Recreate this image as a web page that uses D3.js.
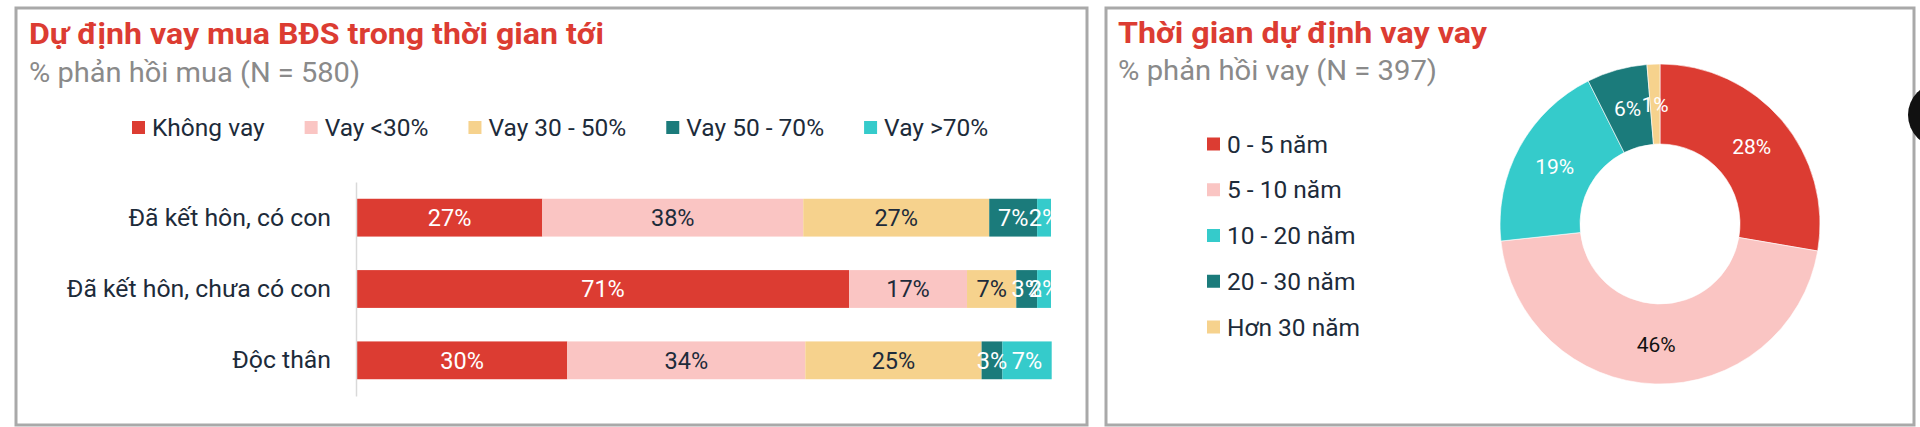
<!DOCTYPE html>
<html>
<head>
<meta charset="utf-8">
<script src="https://cdn.jsdelivr.net/npm/d3@7"></script>
<style>
  html, body { margin: 0; padding: 0; background: #ffffff; }
  svg { display: block; }
  text { font-family: Roboto, "Noto Sans", sans-serif; }
</style>
</head>
<body>
<svg id="chart" width="1920" height="427"></svg>
<script>
// ---------- DATA ----------
const barTitle = "Dự định vay mua BĐS trong thời gian tới";
const barSubtitle = "% phản hồi mua (N = 580)";
const barCategories = ["Đã kết hôn, có con", "Đã kết hôn, chưa có con", "Độc thân"];
const barSeries = ["Không vay", "Vay <30%", "Vay 30 - 50%", "Vay 50 - 70%", "Vay >70%"];
const khongVay   = [26.7, 70.9, 30.3];
const vayDuoi30  = [37.6, 17.0, 34.3];
const vay30den50 = [26.8, 7.1, 25.4];
const vay50den70 = [6.9, 3.0, 3.0];
const vayTren70  = [2.0, 2.0, 7.1];

const donutTitle = "Thời gian dự định vay vay";
const donutSubtitle = "% phản hồi vay (N = 397)";
const donutCategories = ["0 - 5 năm", "5 - 10 năm", "10 - 20 năm", "20 - 30 năm", "Hơn 30 năm"];
const donutValues = [27.7, 45.6, 19.3, 6.1, 1.3];

// ---------- STYLE ----------
const RED = "#dc3c32", PINK = "#fac5c3", YELLOW = "#f6d28d", TEAL = "#1b7b7b", CYAN = "#35cbcb";
const DARK = "#1d2b3a", GRAY = "#8a8a8a";
const barColors = [RED, PINK, YELLOW, TEAL, CYAN];
const barLabelColors = ["#ffffff", DARK, DARK, "#ffffff", "#ffffff"];
const donutColors = [RED, PINK, CYAN, TEAL, YELLOW];
const donutLabelColors = ["#ffffff", "#111111", "#ffffff", "#ffffff", "#ffffff"];

const svg = d3.select("#chart");

// ---------- PANELS ----------
svg.append("rect").attr("x", 16).attr("y", 8).attr("width", 1071).attr("height", 417)
  .attr("fill", "#fff").attr("stroke", "#a9a9a9").attr("stroke-width", 3);
svg.append("rect").attr("x", 1106).attr("y", 8).attr("width", 808).attr("height", 417)
  .attr("fill", "#fff").attr("stroke", "#a9a9a9").attr("stroke-width", 3);

function fitText(sel, w) {
  sel.attr("textLength", w).attr("lengthAdjust", "spacingAndGlyphs");
  return sel;
}

// ---------- LEFT: stacked bars ----------
fitText(svg.append("text").attr("x", 29).attr("y", 44).text(barTitle)
  .attr("font-size", 29).attr("font-weight", 700).attr("fill", RED), 575);
fitText(svg.append("text").attr("x", 29).attr("y", 82).text(barSubtitle)
  .attr("font-size", 27).attr("fill", GRAY), 331);

// legend
const legL = svg.append("g");
let lx = 132;
barSeries.forEach((s, i) => {
  legL.append("rect").attr("x", lx).attr("y", 121).attr("width", 13).attr("height", 13).attr("fill", barColors[i]);
  const t = legL.append("text").attr("x", lx + 20).attr("y", 127).attr("dy", "0.35em")
    .attr("font-size", 24.5).attr("fill", DARK).text(s);
  lx = lx + 20 + t.node().getComputedTextLength() + 40;
});

const seriesArrays = [khongVay, vayDuoi30, vay30den50, vay50den70, vayTren70];
const rows = barCategories.map((c, i) => {
  const r = { cat: c };
  barSeries.forEach((s, j) => r[s] = seriesArrays[j][i]);
  return r;
});
const stack = d3.stack().keys(barSeries)(rows);

const x = d3.scaleLinear().domain([0, 100]).range([357, 1051]);
const y = d3.scaleBand().domain(barCategories).range([182, 396]).paddingInner(0.47).paddingOuter(0.235);

const gBars = svg.append("g");
stack.forEach((layer, j) => {
  const g = gBars.append("g").attr("fill", barColors[j]);
  g.selectAll("rect").data(layer).join("rect")
    .attr("x", d => x(d[0]))
    .attr("y", d => y(d.data.cat))
    .attr("width", d => x(d[1]) - x(d[0]))
    .attr("height", y.bandwidth());
});
stack.forEach((layer, j) => {
  gBars.append("g").selectAll("text").data(layer).join("text")
    .attr("x", d => (x(d[0]) + x(d[1])) / 2)
    .attr("y", d => y(d.data.cat) + y.bandwidth() / 2)
    .attr("dy", "0.36em")
    .attr("text-anchor", "middle")
    .attr("font-size", 23.5)
    .attr("fill", barLabelColors[j])
    .text(d => d3.format(".0f")(d[1] - d[0]) + "%");
});

// y axis
const yAxis = d3.axisLeft(y).tickSize(0).tickPadding(25);
const gy = svg.append("g").attr("transform", "translate(356,0)").call(yAxis);
gy.select(".domain").attr("stroke", "#d9d9d9").attr("stroke-width", 1.5);
gy.selectAll(".tick text").attr("font-size", 24.8).attr("fill", DARK)
  .attr("font-family", "Roboto, sans-serif");

// ---------- RIGHT: donut ----------
fitText(svg.append("text").attr("x", 1118).attr("y", 43).text(donutTitle)
  .attr("font-size", 29).attr("font-weight", 700).attr("fill", RED), 369);
fitText(svg.append("text").attr("x", 1118).attr("y", 80).text(donutSubtitle)
  .attr("font-size", 27).attr("fill", GRAY), 319);

const legR = svg.append("g");
const legY = d3.scalePoint().domain(donutCategories).range([144, 327]);
donutCategories.forEach((c, i) => {
  legR.append("rect").attr("x", 1207).attr("y", legY(c) - 6.5).attr("width", 13).attr("height", 13).attr("fill", donutColors[i]);
  legR.append("text").attr("x", 1227).attr("y", legY(c)).attr("dy", "0.35em")
    .attr("font-size", 24.5).attr("fill", DARK).text(c);
});

const pie = d3.pie().sort(null).value(d => d.v);
const arcs = pie(donutCategories.map((c, i) => ({ c, v: donutValues[i], i })));
const arc = d3.arc().innerRadius(80).outerRadius(160);
const labelArc = d3.arc().innerRadius(120).outerRadius(120);
const gD = svg.append("g").attr("transform", "translate(1660,224)");
gD.selectAll("path").data(arcs).join("path")
  .attr("d", arc).attr("fill", d => donutColors[d.data.i])
  .attr("stroke", "#ffffff").attr("stroke-width", 0.6);
gD.selectAll("text").data(arcs).join("text")
  .attr("transform", d => `translate(${labelArc.centroid(d)})`)
  .attr("dy", "0.36em").attr("text-anchor", "middle")
  .attr("font-family", "'Open Sans', 'Noto Sans', sans-serif")
  .attr("font-size", 21)
  .attr("fill", d => donutLabelColors[d.data.i])
  .text(d => d3.format(".0f")(d.data.v) + "%");

// black UI button partially visible at right edge
svg.append("circle").attr("cx", 1940).attr("cy", 115).attr("r", 32).attr("fill", "#111");
</script>
</body>
</html>
